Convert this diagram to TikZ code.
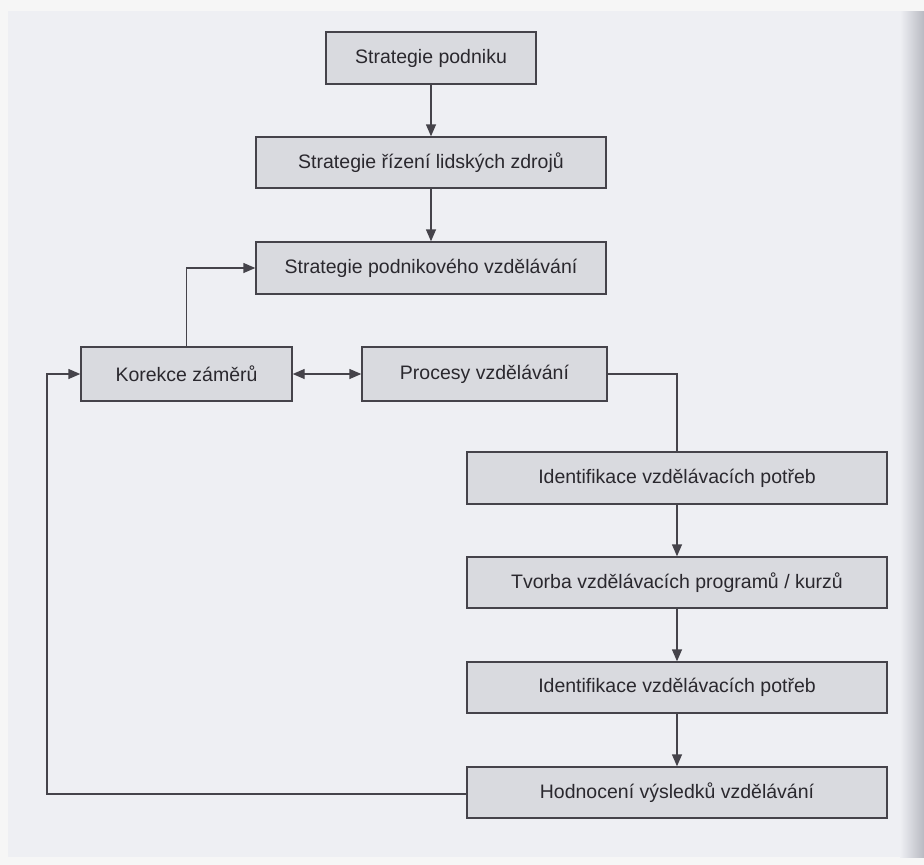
\documentclass[tikz,border=0pt]{standalone}
\usepackage{fontspec}
\setmainfont{Liberation Sans}
\usetikzlibrary{arrows.meta}
\definecolor{pagebg}{HTML}{EEEFF3}
\definecolor{edgebg}{HTML}{F6F6F6}
\definecolor{shadowc}{HTML}{B8BAC2}
\definecolor{boxfill}{HTML}{D9DADF}
\definecolor{linec}{HTML}{45434A}
\definecolor{txt}{HTML}{2A282E}
\begin{document}
\begin{tikzpicture}[x=1pt,y=-1pt,
  box/.style={draw=linec, line width=1.4pt, fill=boxfill, inner sep=0pt,
    font=\fontsize{19.5}{21}\selectfont, text=txt},
  conn/.style={draw=linec, line width=1.4pt, -{Triangle[length=12pt,width=10pt]}},
  plain/.style={draw=linec, line width=1.4pt}]
\useasboundingbox (0,0) rectangle (924,865);
\fill[edgebg] (0,0) rectangle (924,865);
\fill[pagebg] (8,11) rectangle (906,857);
\shade[left color=pagebg, right color=shadowc] (900,11) rectangle (924,857);
% boxes
\node[box, minimum width=210pt, minimum height=52pt] (b1) at (431,58) {Strategie podniku};
\node[box, minimum width=350pt, minimum height=51pt] (b2) at (431,162.5) {Strategie řízení lidských zdrojů};
\node[box, minimum width=350pt, minimum height=52pt] (b3) at (431,268) {Strategie podnikového vzdělávání};
\node[box, minimum width=211pt, minimum height=54pt] (b4) at (186.5,374) {Korekce záměrů};
\node[box, minimum width=245pt, minimum height=54pt] (b5) at (484.5,374) {Procesy vzdělávání};
\node[box, minimum width=420pt, minimum height=52pt] (b6) at (677,478) {Identifikace vzdělávacích potřeb};
\node[box, minimum width=420pt, minimum height=51pt] (b7) at (677,582.5) {Tvorba vzdělávacích programů / kurzů};
\node[box, minimum width=420pt, minimum height=51pt] (b8) at (677,687.5) {Identifikace vzdělávacích potřeb};
\node[box, minimum width=420pt, minimum height=51pt] (b9) at (677,792.5) {Hodnocení výsledků vzdělávání};
% connectors
\draw[conn] (b1) -- (b2);
\draw[conn] (b2) -- (b3);
\draw[conn] (b4.north) |- (b3.west);
\draw[conn, {Triangle[length=12pt,width=10pt]}-{Triangle[length=12pt,width=10pt]}] (b4.east) -- (b5.west);
\draw[plain] (b5.east) -| (b6.north);
\draw[conn] (b6) -- (b7);
\draw[conn] (b7) -- (b8);
\draw[conn] (b8) -- (b9);
\coordinate (fbl) at (47,794);
\coordinate (fbt) at (47,374);
\draw[conn] (b9.west |- fbl) -- (fbl) -- (fbt) -- (b4.west);
\end{tikzpicture}
\end{document}
